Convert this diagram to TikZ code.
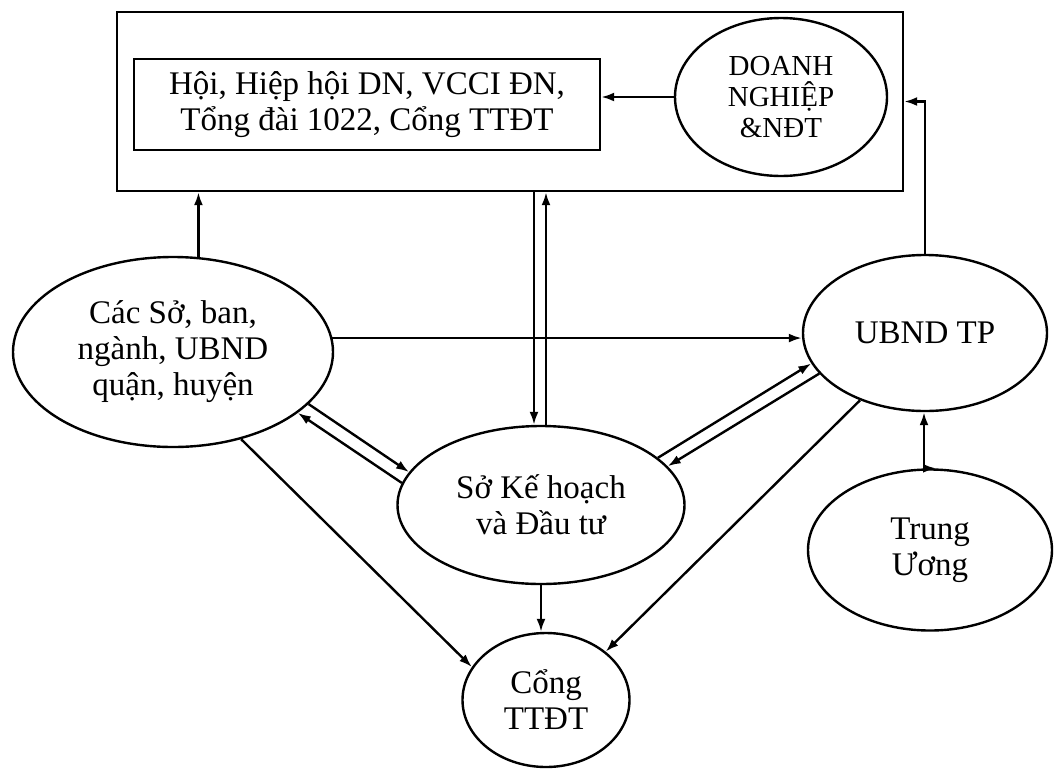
\documentclass[tikz,border=0pt]{standalone}
\usepackage{fontspec}
\setmainfont{Liberation Serif}
\usetikzlibrary{arrows,arrows.meta,shapes,calc,positioning}

\begin{document}
\begin{tikzpicture}
  [x=1pt, y=-1pt, >={Latex[length=13pt,width=9pt]},
  every node/.style={draw, ellipse, inner sep=0pt, line width=2.4pt, align=center,
    font=\fontsize{33}{36}\selectfont},
  ]
  \tikzstyle{hop}=[rectangle]
  \tikzstyle{mui}=[draw, ->, line width=2.4pt, black]
  \useasboundingbox (0,0) rectangle (1055,772);

  % khung tren
  \node[hop, minimum width=786pt, minimum height=179pt] (khung) at (510,101.5) {};
  \node[hop, minimum width=466pt, minimum height=91pt] (hoi) at (367,104.5)
    {Hội, Hiệp hội DN, VCCI ĐN,\\Tổng đài 1022, Cổng TTĐT};
  \node[minimum width=212pt, minimum height=158pt, font=\fontsize{29}{31}\selectfont] (dn) at (781,97)
    {DOANH\\NGHIỆP\\\&NĐT};

  % cac ellipse
  \node[minimum width=320pt, minimum height=190pt] (caso) at (173,352) {Các Sở, ban,\\ngành, UBND\\quận, huyện};
  \node[minimum width=244pt, minimum height=156pt] (ubnd) at (925,333) {UBND TP};
  \node[minimum width=287pt, minimum height=158pt] (skh) at (541,505) {Sở Kế hoạch\\và Đầu tư};
  \node[minimum width=244pt, minimum height=161pt] (tw) at (930,550) {Trung\\Ương};
  \node[minimum width=167pt, minimum height=134pt] (cong) at (546,700) {Cổng\\TTĐT};

  \draw[mui] (dn.west) -- (dn.west -| hoi.east);
  \draw[mui] (caso.75) -- (caso.75 |- khung.south);
  \draw[mui] (caso.5) -- (caso.5 -| ubnd.west);
  \draw[mui] (ubnd.north) |- (khung.east);
  \draw[mui] ([xshift=-7pt]skh.north |- khung.south) -- ([xshift=-7pt]skh.north);
  \draw[mui] ([xshift=5pt]skh.north) -- ([xshift=5pt]skh.north |- khung.south);
  \draw[mui] (caso.-21) -- (skh.166);
  \draw[mui] (skh.171) -- (caso.-26);
  \draw[mui] (skh.22) -- (ubnd.195);
  \draw[mui] (ubnd.201) -- (skh.17);
  \draw[mui] ([xshift=-6pt]tw.north) -- ([xshift=-6pt]tw.north |- ubnd.south);
  \draw[mui] ([xshift=6pt]ubnd.south |- tw.north) -- ([xshift=6pt]tw.north);
  \draw[mui] (caso.-52) -- (cong.156);
  \draw[mui] (ubnd.226) -- (cong.39);
  \draw[mui] (skh.south) -- (skh.south |- cong.north);
\end{tikzpicture}
\end{document}
